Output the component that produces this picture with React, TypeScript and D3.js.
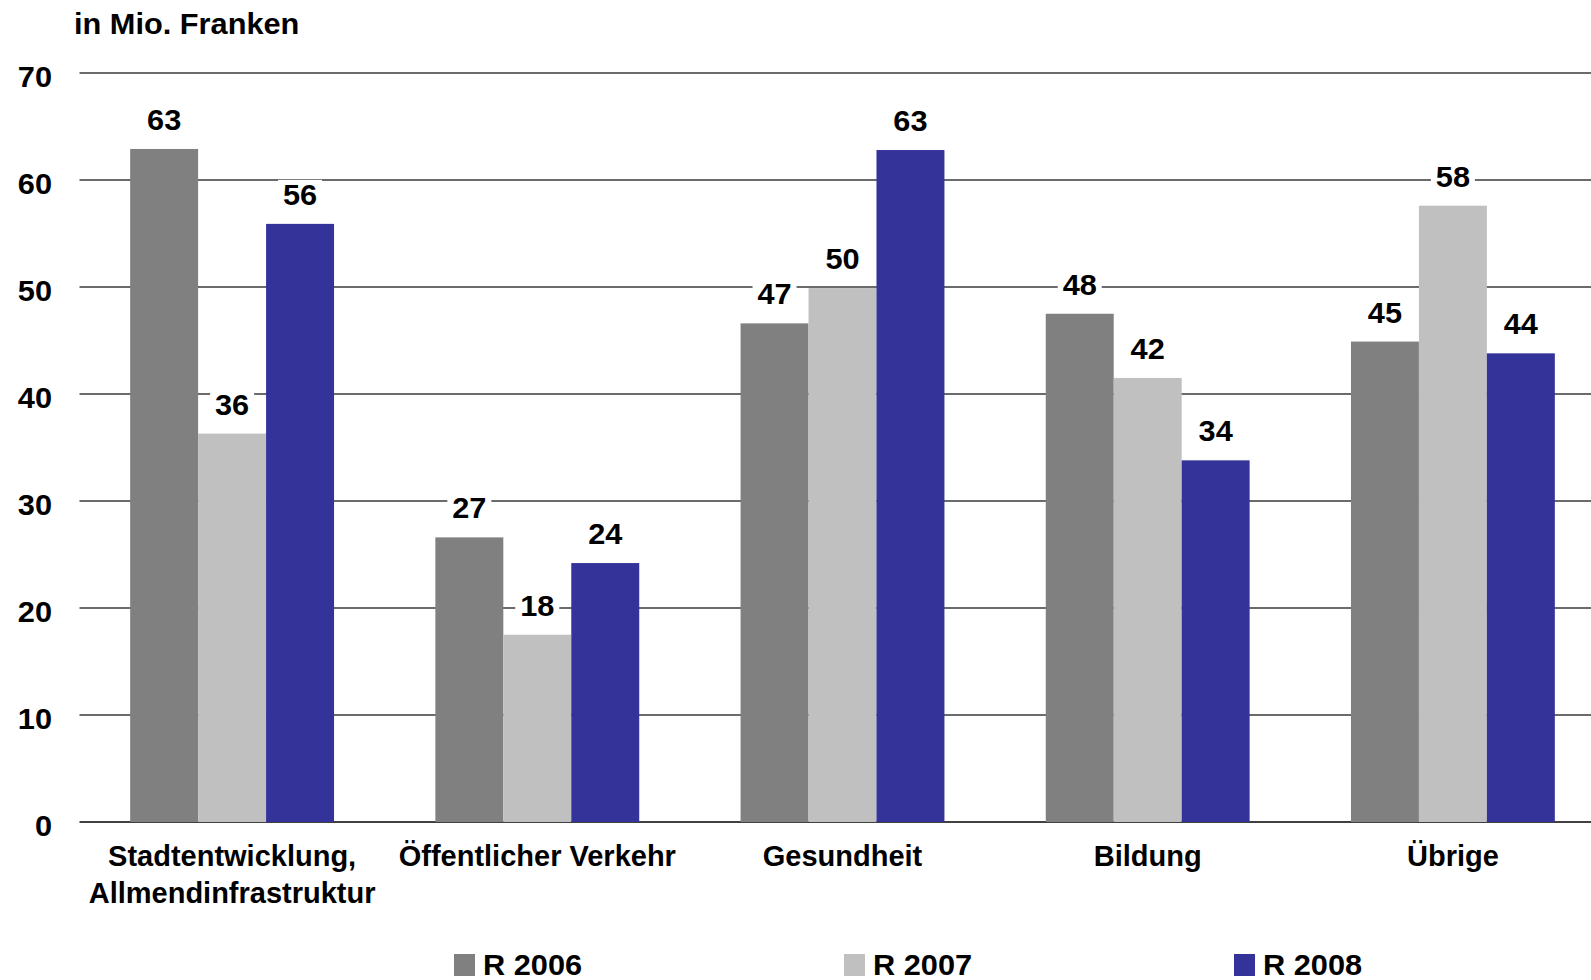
import * as d3 from "d3";

const categories = [
    ["Stadtentwicklung,", "Allmendinfrastruktur"],
    ["Öffentlicher Verkehr"],
    ["Gesundheit"],
    ["Bildung"],
    ["Übrige"],
];
const seriesNames = ["R 2006", "R 2007", "R 2008"];
const r2006 = [62.9, 26.6, 46.6, 47.5, 44.9];
const r2007 = [36.3, 17.5, 49.9, 41.5, 57.6];
const r2008 = [55.9, 24.2, 62.8, 33.8, 43.8];
const labels2006 = ["63", "27", "47", "48", "45"];
const labels2007 = ["36", "18", "50", "42", "58"];
const labels2008 = ["56", "24", "63", "34", "44"];
const yTicks = [0, 10, 20, 30, 40, 50, 60, 70];

const colors = ["#808080", "#C0C0C0", "#333399"];
const font = "'Liberation Sans', Arial, sans-serif";

function T({ x, y, size = 29, sx = 1.06, anchor = "middle", children }: any) {
    return (
        <text
            transform={`translate(${x},${y}) scale(${sx},1)`}
            fontFamily={font}
            fontWeight="bold"
            fontSize={size}
            textAnchor={anchor}
            fill="#000"
        >
            {children}
        </text>
    );
}

export default function App() {
    const width = 1591;
    const height = 980;
    const left = 79.5;
    const step = 305.2;

    const x = d3
        .scaleBand<number>()
        .domain(d3.range(categories.length))
        .range([left, left + step * categories.length])
        .paddingInner(0.332)
        .paddingOuter(0.166);
    const xs = d3.scaleBand<number>().domain([0, 1, 2]).range([0, x.bandwidth()]);
    const y = d3.scaleLinear().domain([0, 70]).range([822, 73]);

    const series = [r2006, r2007, r2008];
    const labels = [labels2006, labels2007, labels2008];

    return (
        <svg width={width} height={height} style={{ position: "absolute", left: 0, top: 0, background: "#fff" }}>
            <T x={74} y={34} anchor="start">in Mio. Franken</T>

            {yTicks.map((t) => (
                <g key={t}>
                    <line
                        x1={left}
                        x2={width}
                        y1={y(t)}
                        y2={y(t)}
                        stroke={t === 0 ? "#000" : "#3a3a3a"}
                        strokeWidth={1.5}
                    />
                    <T x={52} y={y(t) + 14} anchor="end">{t}</T>
                </g>
            ))}

            {series.map((vals, s) =>
                vals.map((v, i) => (
                    <rect
                        key={`b${s}-${i}`}
                        x={(x(i) ?? 0) + (xs(s) ?? 0)}
                        y={y(v)}
                        width={xs.bandwidth()}
                        height={y(0) - y(v)}
                        fill={colors[s]}
                    />
                ))
            )}

            {series.map((vals, s) =>
                vals.map((v, i) => {
                    const cx = (x(i) ?? 0) + (xs(s) ?? 0) + xs.bandwidth() / 2;
                    const by = y(v) - 19;
                    return (
                        <g key={`l${s}-${i}`}>
                            <rect x={cx - 22} y={by - 25} width={44} height={31} fill="#fff" />
                            <T x={cx} y={by}>{labels[s][i]}</T>
                        </g>
                    );
                })
            )}

            {categories.map((lines, i) => {
                const cx = (x(i) ?? 0) + x.bandwidth() / 2;
                return lines.map((ln, k) => (
                    <T key={`c${i}-${k}`} x={cx} y={866 + k * 37} size={29} sx={1}>{ln}</T>
                ));
            })}

            {seriesNames.map((n, s) => (
                <g key={n}>
                    <rect x={454 + s * 390} y={954} width={21} height={22} fill={colors[s]} />
                    <T x={483 + s * 390} y={975} anchor="start">{n}</T>
                </g>
            ))}
        </svg>
    );
}
